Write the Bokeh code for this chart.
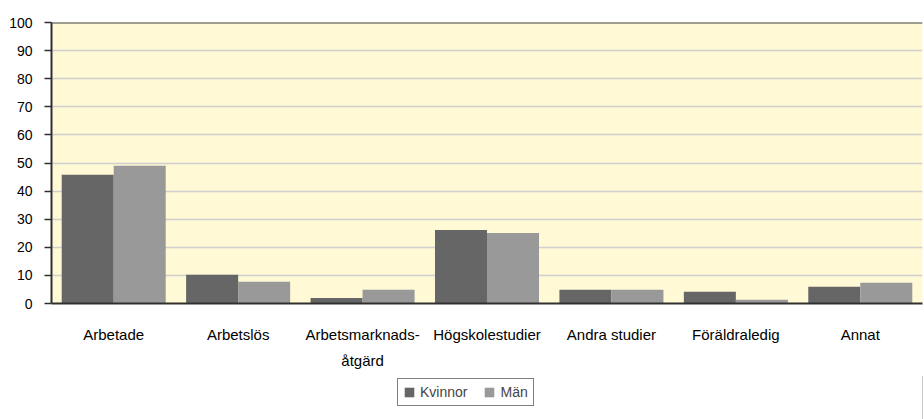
from bokeh.plotting import figure
from bokeh.models import ColumnDataSource, Legend, LegendItem, FactorRange, Range1d
from bokeh.layouts import column
from bokeh.transform import dodge
from bokeh.embed import file_html
from bokeh.resources import INLINE

categories = ["Arbetade", "Arbetslös", "Arbetsmarknads-\nåtgärd", "Högskolestudier",
              "Andra studier", "Föräldraledig", "Annat"]
kvinnor = [45.8, 10.2, 2.0, 26.2, 4.9, 4.2, 6.0]
man = [49.0, 7.7, 4.9, 25.1, 4.9, 1.3, 7.4]
series_names = ["Kvinnor", "Män"]
y_ticks = list(range(0, 101, 10))

FONT = "Liberation Sans"
KV_COLOR = "#666666"
MAN_COLOR = "#999999"

src = ColumnDataSource(dict(cat=categories, kv=kvinnor, man=man))

p = figure(width=924, height=375, x_range=FactorRange(*categories, range_padding=0),
           y_range=(0, 100), output_backend="svg", toolbar_location=None,
           min_border_left=51, min_border_top=22, min_border_right=2, min_border_bottom=72,
           background_fill_color="#FFF9D5", border_fill_color="white")
p.outline_line_color = None

p.vbar(x=dodge("cat", -0.209, range=p.x_range), top="kv", width=0.418, source=src,
       fill_color=KV_COLOR, line_color=None)
p.vbar(x=dodge("cat", 0.209, range=p.x_range), top="man", width=0.418, source=src,
       fill_color=MAN_COLOR, line_color=None)

# top border line
p.hspan(y=[100], line_color="#404040", line_width=2)

p.xgrid.grid_line_color = None
p.ygrid.grid_line_color = "#D0D0D0"
p.ygrid.grid_line_width = 1.5
p.yaxis.ticker = y_ticks
p.yaxis.axis_line_color = "#303030"
p.yaxis.axis_line_width = 2
p.yaxis.major_tick_line_color = "#303030"
p.yaxis.major_tick_line_width = 1.5
p.yaxis.major_tick_out = 7
p.yaxis.major_tick_in = 0
p.yaxis.minor_tick_line_color = None
p.yaxis.major_label_standoff = 12
p.yaxis.major_label_text_font = FONT
p.yaxis.major_label_text_font_size = "14px"
p.yaxis.major_label_text_color = "black"

p.xaxis.axis_line_color = "#303030"
p.xaxis.axis_line_width = 2
p.xaxis.major_tick_line_color = None
p.xaxis.minor_tick_line_color = None
p.xaxis.major_label_standoff = 16
p.xaxis.major_label_text_font = FONT
p.xaxis.major_label_text_font_size = "15px"
p.xaxis.major_label_text_color = "black"
p.xaxis.major_label_text_line_height = 1.55

# legend strip below the chart (its swatch renderers lie outside the visible range)
lf = figure(width=924, height=44, x_range=Range1d(0, 1), y_range=Range1d(0, 1),
            output_backend="svg", toolbar_location=None,
            min_border_left=0, min_border_right=0, min_border_top=0, min_border_bottom=0,
            background_fill_color="white", border_fill_color="white")
lf.outline_line_color = None
lf.axis.visible = False
lf.grid.visible = False
swatch = ColumnDataSource(dict(x=[10], top=[1]))
l1 = lf.vbar(x="x", top="top", width=0.1, source=swatch, fill_color=KV_COLOR, line_color=None)
l2 = lf.vbar(x="x", top="top", width=0.1, source=swatch, fill_color=MAN_COLOR, line_color=None)

legend = Legend(items=[LegendItem(label=series_names[0], renderers=[l1]),
                       LegendItem(label=series_names[1], renderers=[l2])],
                orientation="horizontal", location=(346, 13),
                border_line_color="black", border_line_width=1,
                background_fill_color="white", background_fill_alpha=1,
                label_text_font=FONT, label_text_font_size="14px",
                glyph_width=12, glyph_height=12, label_standoff=5, spacing=16,
                padding=5, margin=0, label_height=12)
lf.add_layout(legend, "center")

layout = column(p, lf, spacing=0)
open("out.html", "w").write(file_html(layout, INLINE))
